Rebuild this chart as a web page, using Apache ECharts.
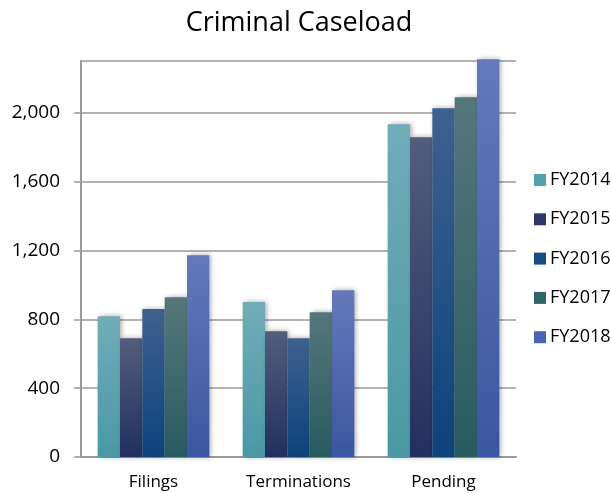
<!DOCTYPE html>
<html>
<head>
<meta charset="utf-8">
<script src="https://cdn.jsdelivr.net/npm/echarts@6/dist/echarts.min.js"></script>
<style>
html,body{margin:0;padding:0;background:#fff;}
#chart{width:611px;height:493px;}
</style>
</head>
<body>
<div id="chart"></div>
<script>
var categories = ['Filings', 'Terminations', 'Pending'];
var seriesNames = ['FY2014', 'FY2015', 'FY2016', 'FY2017', 'FY2018'];
var fy2014 = [818, 900, 1933];
var fy2015 = [690, 731, 1857];
var fy2016 = [859, 690, 2025];
var fy2017 = [928, 841, 2089];
var fy2018 = [1172, 969, 2310];
var yTicks = [0, 400, 800, 1200, 1600, 2000];

var seriesValues = [fy2014, fy2015, fy2016, fy2017, fy2018];
var topColors = ['#70ADB8', '#535D7C', '#3F6190', '#55777B', '#6579BA'];
var bottomColors = ['#4A98A5', '#223060', '#0C437A', '#285B60', '#3B56A2'];
var legendColors = ['#55A2AE', '#2C3866', '#154C86', '#30646A', '#4864B0'];

var FONT = '"Open Sans", sans-serif';

var chart = echarts.init(document.getElementById('chart'));
var series = seriesNames.map(function (name, i) {
  return {
    name: name,
    type: 'bar',
    data: seriesValues[i],
    barGap: '0%',
    barCategoryGap: '23%',
    clip: false,
    itemStyle: {
      color: new echarts.graphic.LinearGradient(0, 0, 0, 1, [
        { offset: 0, color: topColors[i] },
        { offset: 1, color: bottomColors[i] }
      ]),
      shadowColor: 'rgba(0,0,0,0.35)',
      shadowBlur: 5,
      shadowOffsetX: 2,
      shadowOffsetY: 0
    },
    emphasis: { disabled: true }
  };
});

chart.setOption({
  animation: false,
  backgroundColor: '#ffffff',
  title: {
    text: 'Criminal Caseload',
    left: 294,
    top: 5,
    textAlign: 'center',
    textStyle: { fontFamily: FONT, fontSize: 27, fontWeight: 'normal', color: '#000' }
  },
  legend: {
    orient: 'vertical',
    left: 529,
    top: 166,
    itemWidth: 12,
    itemHeight: 12,
    itemGap: 21.3,
    icon: 'rect',
    data: seriesNames.map(function (n, i) {
      return { name: n, itemStyle: { color: legendColors[i], shadowBlur: 0 } };
    }),
    textStyle: { fontFamily: FONT, fontSize: 18, color: '#000', padding: [0, 0, 0, -1] }
  },
  grid: { left: 81, right: 95, top: 61, bottom: 36, containLabel: false },
  xAxis: {
    type: 'category',
    data: categories,
    axisLine: { lineStyle: { color: '#9A9A9A', width: 2 } },
    axisTick: { show: false },
    axisLabel: { fontFamily: FONT, fontSize: 17, color: '#000', margin: 17 },
    splitLine: { show: false }
  },
  yAxis: {
    type: 'value',
    min: 0,
    max: 2300,
    interval: 400,
    axisLine: { show: true, lineStyle: { color: '#9A9A9A', width: 2 } },
    axisTick: { show: true, length: 7, lineStyle: { color: '#9A9A9A', width: 1.5 } },
    axisLabel: {
      fontFamily: FONT, fontSize: 19, color: '#000', margin: 21,
      showMaxLabel: false,
      formatter: function (v) {
        return yTicks.indexOf(v) >= 0 ? v.toLocaleString('en-US') : '';
      }
    },
    splitLine: { show: true, lineStyle: { color: '#9A9A9A', width: 1.5 } }
  },
  series: series
});
</script>
</body>
</html>
